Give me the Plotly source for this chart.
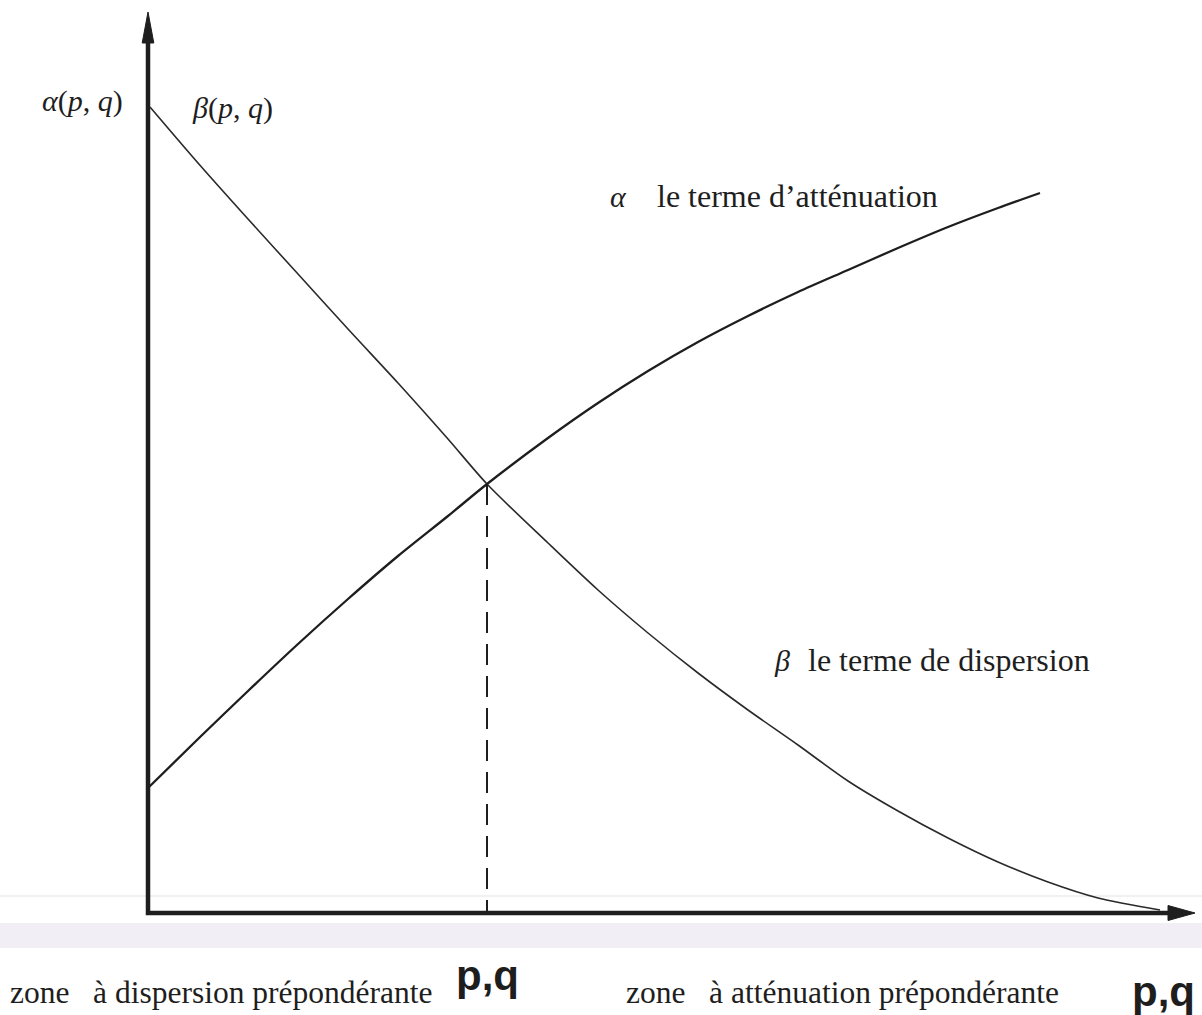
import plotly.graph_objects as go

# Attenuation term alpha(p, q): rises from the vertical axis
alpha_x = [0.00, 0.50, 1.00, 1.50, 2.00, 2.50, 3.00, 3.39, 4.00, 4.50, 5.00,
           5.50, 6.00, 6.50, 7.00, 7.50, 8.00, 8.50, 8.92]
alpha_y = [1.25, 1.74, 2.22, 2.69, 3.14, 3.57, 3.97, 4.29, 4.75, 5.10, 5.42,
           5.71, 5.97, 6.21, 6.43, 6.65, 6.86, 7.05, 7.20]

# Dispersion term beta(p, q): falls towards the horizontal axis
beta_x = [0.02, 0.50, 1.00, 1.50, 2.00, 2.50, 3.00, 3.39, 4.00, 4.50, 5.00,
          5.50, 6.00, 6.50, 7.00, 7.50, 8.00, 8.50, 9.00, 9.50, 10.12]
beta_y = [8.06, 7.50, 6.94, 6.39, 5.84, 5.30, 4.74, 4.29, 3.70, 3.23, 2.80,
          2.40, 2.03, 1.68, 1.32, 1.02, 0.75, 0.51, 0.31, 0.15, 0.03]

# Crossing point of the two terms
cross_x = 3.39
cross_y = 4.29

# Axis extents (arrow tips)
x_axis_end = 10.47
y_axis_end = 9.01

INK = "#1e1e1e"
SERIF = "Liberation Serif, Times New Roman, serif"
SANS = "Liberation Sans, Arial, sans-serif"

fig = go.Figure()

# Axes: thick lines from the origin with slim filled arrowheads
fig.add_trace(go.Scatter(
    x=[0, 0, x_axis_end - 0.2], y=[y_axis_end - 0.25, 0, 0], mode="lines",
    line=dict(color=INK, width=4.5), hoverinfo="skip", showlegend=False))
fig.add_trace(go.Scatter(
    x=[-0.058, 0, 0.058, -0.058], y=[y_axis_end - 0.31, y_axis_end, y_axis_end - 0.31, y_axis_end - 0.31],
    mode="lines", fill="toself", fillcolor=INK, line=dict(color=INK, width=1),
    hoverinfo="skip", showlegend=False))
fig.add_trace(go.Scatter(
    x=[x_axis_end - 0.27, x_axis_end, x_axis_end - 0.27, x_axis_end - 0.27], y=[0.075, 0, -0.075, 0.075],
    mode="lines", fill="toself", fillcolor=INK, line=dict(color=INK, width=1),
    hoverinfo="skip", showlegend=False))

fig.add_trace(go.Scatter(
    x=beta_x, y=beta_y, mode="lines",
    line=dict(color="#2a2a2a", width=1.6, shape="spline", smoothing=0.8),
    hoverinfo="skip", showlegend=False))

fig.add_trace(go.Scatter(
    x=alpha_x, y=alpha_y, mode="lines",
    line=dict(color=INK, width=2.3, shape="spline", smoothing=0.8),
    hoverinfo="skip", showlegend=False))

# Dashed drop line from the crossing point to the p,q axis
fig.add_trace(go.Scatter(
    x=[cross_x, cross_x], y=[cross_y, 0], mode="lines",
    line=dict(color=INK, width=2, dash="21px,11px"),
    hoverinfo="skip", showlegend=False))

annotations = []


def label(x, y, text, size, family=SERIF, xanchor="left", yanchor="middle"):
    annotations.append(dict(
        x=x, y=y, xref="x", yref="y", text=text, showarrow=False,
        xanchor=xanchor, yanchor=yanchor,
        font=dict(family=family, size=size, color=INK)))


label(-1.08, 8.12, "<i>α</i>(<i>p</i>, <i>q</i>)", 30)
label(0.42, 8.05, "<i>β</i>(<i>p</i>, <i>q</i>)", 30)
label(4.60, 7.17, "<i>α</i>", 30)
label(5.07, 7.17, "le terme d’atténuation", 32)
label(6.24, 2.53, "<i>β</i>", 30)
label(6.58, 2.53, "le terme de dispersion", 32)

label(-1.40, -0.79, "zone   à dispersion prépondérante", 31.5)
label(4.76, -0.79, "zone   à atténuation prépondérante", 31.5)
label(cross_x, -0.62, "<b>p,q</b>", 42, family=SANS, xanchor="center")
label(10.49, -0.78, "<b>p,q</b>", 42, family=SANS, xanchor="right")

# Faint scanner band and streak below the horizontal axis
shapes = [
    dict(type="rect", xref="paper", yref="y", x0=0, x1=1, y0=-0.35, y1=-0.10,
         fillcolor="rgba(228,222,238,0.5)", line=dict(width=0), layer="below"),
    dict(type="line", xref="paper", yref="y", x0=0, x1=1, y0=0.17, y1=0.17,
         line=dict(color="rgba(200,200,200,0.35)", width=1.5), layer="below"),
]

fig.update_layout(
    width=1202, height=1015,
    margin=dict(l=0, r=0, t=0, b=0),
    paper_bgcolor="white", plot_bgcolor="white",
    xaxis=dict(range=[-1.48, 10.54], visible=False, fixedrange=True),
    yaxis=dict(range=[-1.02, 9.13], visible=False, fixedrange=True),
    annotations=annotations, shapes=shapes,
    showlegend=False,
)

fig.write_html("out.html")
